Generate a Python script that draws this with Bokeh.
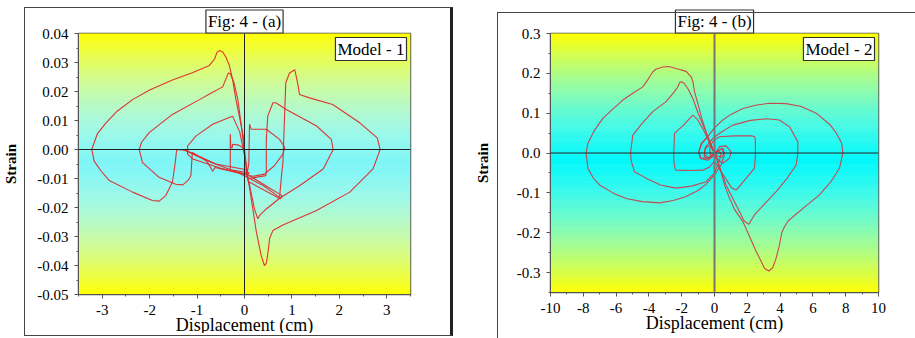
import numpy as np
from bokeh.plotting import figure
from bokeh.models import Range1d, FixedTicker, Span, Label, Div
from bokeh.layouts import row
from bokeh.embed import file_html
from bokeh.resources import INLINE

FONT = "Liberation Serif"

# ---------------- Panel (a): Model - 1 ----------------
a_xticks = [-3, -2, -1, 0, 1, 2, 3]
a_xlabels = ["-3", "-2", "-1", "0", "1", "2", "3"]
a_yticks = [-0.05, -0.04, -0.03, -0.02, -0.01, 0.0, 0.01, 0.02, 0.03, 0.04]
a_ylabels = ["-0.05", "-0.04", "-0.03", "-0.02", "-0.01", "0.00", "0.01", "0.02", "0.03", "0.04"]

a_loop1 = [(0.00, 0.0000), (-0.03, 0.0050), (-0.11, 0.0115), (-0.18, 0.0172), (-0.25, 0.0240), (-0.32, 0.0290),
           (-0.39, 0.0318), (-0.46, 0.0336), (-0.53, 0.0341), (-0.58, 0.0335), (-0.63, 0.0312), (-0.74, 0.0290),
           (-1.10, 0.0265), (-1.52, 0.0240), (-2.00, 0.0205), (-2.36, 0.0172), (-2.70, 0.0130), (-2.92, 0.0092),
           (-3.10, 0.0055), (-3.22, 0.0000), (-3.17, -0.0040), (-3.02, -0.0075), (-2.85, -0.0107), (-2.36, -0.0147),
           (-1.94, -0.0176), (-1.80, -0.0178), (-1.66, -0.0159), (-1.52, -0.0113), (-1.46, -0.0045), (-1.43, 0.0000),
           (-1.25, -0.0002), (-0.60, -0.0050), (0.04, -0.0070), (0.11, -0.0136), (0.25, -0.0284), (0.35, -0.0364),
           (0.42, -0.0400), (0.46, -0.0393), (0.50, -0.0350), (0.53, -0.0307), (0.60, -0.0279), (0.81, -0.0260),
           (1.52, -0.0210), (2.22, -0.0147), (2.71, -0.0067), (2.86, 0.0000), (2.80, 0.0040), (2.43, 0.0092),
           (1.86, 0.0155), (1.37, 0.0178), (1.16, 0.0190), (1.12, 0.0230), (1.06, 0.0275), (0.95, 0.0264),
           (0.87, 0.0230), (0.85, 0.0138), (0.81, -0.0045), (0.78, -0.0090), (0.74, -0.0165), (0.40, -0.0125),
           (0.05, -0.0095)]

a_loop2 = [(0.05, -0.0088), (-0.05, 0.0060), (-0.14, 0.0172), (-0.22, 0.0230), (-0.30, 0.0262), (-0.34, 0.0264),
           (-0.40, 0.0240), (-0.46, 0.0216), (-0.70, 0.0195), (-0.95, 0.0172), (-1.52, 0.0121), (-2.01, 0.0058),
           (-2.17, 0.0025), (-2.22, 0.0000), (-2.15, -0.0045), (-1.80, -0.0096), (-1.45, -0.0120), (-1.30, -0.0122),
           (-1.18, -0.0105), (-1.13, -0.0090), (-1.10, -0.0010), (-1.00, -0.0020), (-0.80, -0.0040), (-0.72, -0.0060),
           (-0.67, -0.0075), (-0.62, -0.0062), (0.05, -0.0088), (0.11, -0.0125), (0.21, -0.0205), (0.28, -0.0239),
           (0.32, -0.0227), (0.46, -0.0205), (0.74, -0.0168), (1.16, -0.0125), (1.66, -0.0067), (1.87, 0.0000),
           (1.83, 0.0035), (1.52, 0.0081), (0.88, 0.0138), (0.66, 0.0161), (0.60, 0.0161), (0.49, 0.0115),
           (0.46, 0.0035), (0.46, -0.0077), (0.45, -0.0090), (0.10, -0.0100)]

a_loop3 = [(0.00, -0.0020), (-0.10, 0.0060), (-0.25, 0.0115), (-0.40, 0.0105), (-0.67, 0.0087), (-1.02, 0.0047),
           (-1.20, 0.0012), (-1.20, -0.0016), (-1.09, -0.0033), (-0.50, -0.0065), (0.05, -0.0085), (0.09, -0.0050),
           (0.106, 0.0087), (0.14, 0.0070), (0.46, 0.0070), (0.74, 0.0035), (0.85, 0.0007), (0.81, -0.0016),
           (0.63, -0.0056), (0.42, -0.0085), (0.20, -0.0092), (0.08, -0.0090)]

a_loop4 = [(-1.30, 0.0000), (-0.70, -0.0045), (-0.20, -0.0075), (0.05, -0.0095), (0.10, -0.0080), (-0.30, -0.0070),
           (-0.30, 0.0053), (-0.29, 0.0010), (-0.26, 0.0005), (-0.25, 0.0018), (-0.12, 0.0015), (-0.05, 0.0008),
           (0.00, 0.0000), (0.08, -0.0110), (0.75, -0.0170), (0.80, -0.0160), (0.10, -0.0090)]

# ---------------- Panel (b): Model - 2 ----------------
b_xticks = [-10, -8, -6, -4, -2, 0, 2, 4, 6, 8, 10]
b_xlabels = ["-10", "-8", "-6", "-4", "-2", "0", "2", "4", "6", "8", "10"]
b_yticks = [-0.3, -0.2, -0.1, 0.0, 0.1, 0.2, 0.3]
b_ylabels = ["-0.3", "-0.2", "-0.1", "0.0", "0.1", "0.2", "0.3"]

b_loop1 = [(0.00, 0.000), (-0.25, 0.020), (-0.51, 0.053), (-0.80, 0.090), (-1.02, 0.125), (-1.22, 0.154),
           (-1.32, 0.180), (-1.42, 0.191), (-1.73, 0.205), (-2.34, 0.212), (-2.80, 0.217), (-3.15, 0.216),
           (-3.55, 0.211), (-3.76, 0.204), (-4.05, 0.185), (-4.37, 0.166), (-4.98, 0.150), (-5.59, 0.133),
           (-6.20, 0.110), (-6.81, 0.087), (-7.35, 0.055), (-7.72, 0.024), (-7.83, 0.000), (-7.72, -0.038),
           (-7.40, -0.062), (-7.01, -0.080), (-6.20, -0.100), (-5.39, -0.114), (-4.40, -0.122), (-3.35, -0.125),
           (-2.50, -0.119), (-1.73, -0.109), (-1.00, -0.094), (-0.51, -0.078), (0.00, -0.055), (0.40, -0.030),
           (0.60, -0.005), (0.45, 0.010), (0.10, 0.005), (0.00, 0.000), (0.10, -0.005), (0.35, -0.040),
           (0.61, -0.080), (0.90, -0.112), (1.02, -0.122), (1.20, -0.140), (1.73, -0.172), (2.20, -0.215),
           (2.54, -0.247), (2.85, -0.272), (3.05, -0.289), (3.31, -0.296), (3.55, -0.288), (3.75, -0.265),
           (3.96, -0.231), (4.10, -0.200), (4.27, -0.185), (4.50, -0.170), (4.78, -0.160), (5.60, -0.132),
           (6.40, -0.105), (7.10, -0.072), (7.62, -0.038), (7.83, 0.000), (7.75, 0.025), (7.40, 0.052),
           (7.00, 0.073), (6.20, 0.100), (5.30, 0.117), (4.37, 0.124), (3.35, 0.125), (2.50, 0.120),
           (1.73, 0.112), (1.00, 0.097), (0.51, 0.083), (0.00, 0.063), (-0.40, 0.042), (-0.75, 0.025),
           (-0.95, 0.005), (-0.85, -0.012), (-0.50, -0.015), (-0.15, -0.008), (0.00, 0.000)]

b_loop2 = [(0.00, 0.000), (-0.30, 0.030), (-0.65, 0.065), (-1.00, 0.100), (-1.30, 0.135), (-1.60, 0.160),
           (-1.85, 0.175), (-2.03, 0.179), (-2.13, 0.176), (-2.25, 0.165), (-2.44, 0.154), (-2.95, 0.129),
           (-3.76, 0.104), (-4.40, 0.075), (-4.98, 0.045), (-5.12, 0.000), (-5.08, -0.020), (-4.88, -0.047),
           (-4.17, -0.063), (-3.30, -0.080), (-2.34, -0.088), (-1.40, -0.083), (-0.51, -0.072), (0.00, -0.050),
           (0.30, -0.020), (0.40, 0.000), (0.20, 0.005), (0.00, 0.000), (0.30, -0.035), (0.70, -0.080),
           (1.12, -0.114), (1.52, -0.147), (1.80, -0.170), (2.09, -0.179), (2.25, -0.168), (2.44, -0.155),
           (3.00, -0.130), (3.76, -0.097), (4.40, -0.065), (4.98, -0.030), (5.08, 0.000), (5.08, 0.028),
           (4.60, 0.065), (3.96, 0.083), (3.15, 0.086), (2.20, 0.082), (1.12, 0.070), (0.40, 0.052),
           (-0.10, 0.037), (-0.55, 0.015), (-0.60, -0.005), (-0.35, -0.012), (0.00, 0.000)]

b_loop3 = [(0.00, 0.000), (-0.35, 0.030), (-0.70, 0.060), (-1.05, 0.085), (-1.32, 0.095), (-1.55, 0.085),
           (-1.93, 0.068), (-2.30, 0.055), (-2.44, 0.049), (-2.48, 0.000), (-2.48, -0.022), (-2.40, -0.040),
           (-2.34, -0.043), (-1.50, -0.044), (-0.71, -0.043), (-0.30, -0.035), (0.00, -0.020), (0.30, -0.040),
           (0.70, -0.065), (1.05, -0.088), (1.32, -0.093), (1.80, -0.070), (2.44, -0.038), (2.50, 0.000),
           (2.48, 0.037), (2.44, 0.041), (2.30, 0.043), (1.20, 0.043), (0.30, 0.041), (-0.10, 0.030),
           (-0.30, 0.010), (-0.20, -0.010), (0.00, 0.000)]

b_loop4 = [(0.00, 0.000), (-0.41, 0.041), (-0.81, 0.024), (-0.96, 0.003), (-0.87, -0.013), (-0.41, -0.018),
           (0.00, -0.005), (0.30, 0.016), (0.71, 0.018), (1.02, 0.003), (0.91, -0.013), (0.51, -0.026),
           (0.10, -0.013), (0.00, 0.000), (-0.30, 0.020), (-0.60, 0.010), (-0.62, -0.010), (-0.40, -0.013),
           (-0.10, -0.005), (0.20, 0.005), (0.50, 0.012), (0.60, 0.000), (0.45, -0.010), (0.20, -0.008),
           (0.00, 0.000)]


def gradient(p, x0, x1, y0, y1, yc, c_mid, c_edge, powers, n=140):
    edges = np.linspace(y0, y1, n + 1)
    bottoms, tops, cols = [], [], []
    for i in range(n):
        b, t = edges[i], edges[i + 1]
        m = 0.5 * (b + t)
        if m >= yc:
            f = (m - yc) / (y1 - yc)
        else:
            f = (yc - m) / (yc - y0)
        f = min(max(f, 0.0), 1.0)
        c = [int(round(c_mid[k] + (c_edge[k] - c_mid[k]) * f ** powers[k])) for k in range(3)]
        bottoms.append(b)
        tops.append(t + (y1 - y0) / n * 0.3)
        cols.append("#%02x%02x%02x" % tuple(c))
    p.quad(left=x0, right=x1, bottom=bottoms, top=tops, fill_color=cols, line_color=None)


def panel(xr, yr, xt, xl, xminor, yt, yl, yminor, loops, color, title, toff, model,
          fw, fh, mbl, mbr, mbt, mbb, grad, ylab_standoff, vline_color, vline_width):
    p = figure(frame_width=fw, frame_height=fh, x_range=Range1d(*xr), y_range=Range1d(*yr),
               output_backend="svg", toolbar_location=None, min_border_left=mbl,
               min_border_right=mbr, min_border_top=mbt, min_border_bottom=mbb)
    p.background_fill_color = None
    p.border_fill_color = None
    p.border_fill_alpha = 0
    p.outline_line_color = "#555555"
    p.outline_line_width = 1.5
    p.grid.visible = False
    gradient(p, xr[0], xr[1], yr[0], yr[1], *grad)

    for loop in loops:
        xs = [pt[0] for pt in loop]
        ys = [pt[1] for pt in loop]
        p.line(xs, ys, line_color=color, line_width=1.1, line_alpha=0.95)

    p.add_layout(Span(location=0, dimension="width", line_color="#222222", line_width=1))
    p.add_layout(Span(location=0, dimension="height", line_color=vline_color, line_width=vline_width))

    for ax, ticks, labels, minor in ((p.xaxis[0], xt, xl, xminor), (p.yaxis[0], yt, yl, yminor)):
        ax.ticker = FixedTicker(ticks=ticks, minor_ticks=minor)
        ax.major_label_overrides = {t: s for t, s in zip(ticks, labels)}
        ax.major_tick_in = 0
        ax.major_tick_out = 4
        ax.minor_tick_in = 0
        ax.minor_tick_out = 2
        ax.axis_line_color = "#555555"
        ax.major_tick_line_color = "#555555"
        ax.minor_tick_line_color = "#555555"
        ax.major_label_text_font = FONT
        ax.major_label_text_font_size = "15px"
        ax.major_label_text_color = "black"
        ax.axis_label_text_font = FONT
        ax.axis_label_text_color = "black"
    p.xaxis[0].axis_label = "Displacement (cm)"
    p.xaxis[0].axis_label_text_font_size = "18px"
    p.xaxis[0].axis_label_text_font_style = "normal"
    p.xaxis[0].major_label_standoff = 6
    p.xaxis[0].axis_label_standoff = -3
    p.yaxis[0].axis_label = "Strain"
    p.yaxis[0].axis_label_text_font_size = "15px"
    p.yaxis[0].axis_label_text_font_style = "bold"
    p.yaxis[0].major_label_standoff = 6
    p.yaxis[0].axis_label_standoff = ylab_standoff

    p.title.text = title
    p.title.align = "center"
    p.title.offset = toff
    p.title.standoff = 1
    p.title.text_font = FONT
    p.title.text_font_size = "17px"
    p.title.text_font_style = "normal"
    p.title.text_color = "black"
    p.title.border_line_color = "#333333"
    p.title.border_line_width = 1.2
    p.title.background_fill_color = "white"
    p.title.padding = 2

    p.add_layout(Label(x=xr[1], y=yr[1], x_offset=-4, y_offset=-4, anchor="top_right", text=model,
                       text_font=FONT, text_font_size="17px", text_color="black",
                       border_line_color="#333333", border_line_width=1.2,
                       background_fill_color="white", padding=2))
    return p


pa = panel((-3.5, 3.5), (-0.05, 0.04), a_xticks, a_xlabels, list(np.arange(-3.5, 3.51, 0.5)),
           a_yticks, a_ylabels, list(np.arange(-0.05, 0.0401, 0.005)),
           [a_loop1, a_loop2, a_loop3, a_loop4], "#de2a2a", "Fig: 4 - (a)", -4, "Model - 1",
           332, 261, 77, 60, 28, 44,
           (-0.005, (125, 246, 246), (255, 255, 0), (1.0, 1.0, 2.0)), 15, "#222222", 1)

pb = panel((-10, 10), (-0.35, 0.3), b_xticks, b_xlabels, list(range(-10, 11)),
           b_yticks, b_ylabels, list(np.arange(-0.35, 0.301, 0.05)),
           [b_loop1, b_loop2, b_loop3, b_loop4], "#c8404c", "Fig: 4 - (b)", 2, "Model - 2",
           328, 259, 80, 28, 33, 41,
           (-0.02, (0, 248, 248), (255, 255, 0), (1.0, 1.0, 2.0)), 23, "#777777", 2)

frames = Div(width=0, height=0, text=(
    '<div style="position:fixed;left:24px;top:7px;width:429px;height:329px;'
    'border:1px solid #444;border-right:3px solid #222;pointer-events:none"></div>'
    '<div style="position:fixed;left:497px;top:12px;width:600px;height:600px;'
    'border:1px solid #444;pointer-events:none"></div>'))

layout = row(pa, pb, frames)
open("out.html", "w").write(file_html(layout, INLINE))
